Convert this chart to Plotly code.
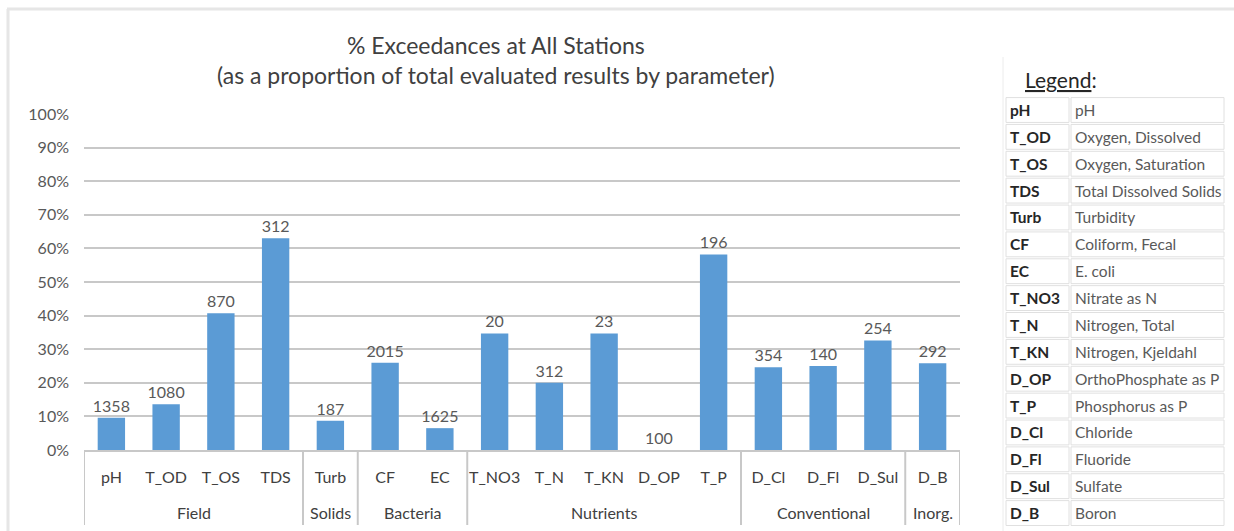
import plotly.graph_objects as go

groups = ["Field", "Field", "Field", "Field", "Solids", "Bacteria", "Bacteria",
          "Nutrients", "Nutrients", "Nutrients", "Nutrients", "Nutrients",
          "Conventional", "Conventional", "Conventional", "Inorg."]
params = ["pH", "T_OD", "T_OS", "TDS", "Turb", "CF", "EC", "T_NO3", "T_N", "T_KN",
          "D_OP", "T_P", "D_Cl", "D_Fl", "D_Sul", "D_B"]
pct = [0.096, 0.136, 0.407, 0.630, 0.087, 0.260, 0.065, 0.347, 0.200, 0.347,
       0.0, 0.582, 0.246, 0.250, 0.326, 0.258]
counts = [1358, 1080, 870, 312, 187, 2015, 1625, 20, 312, 23, 100, 196, 354, 140, 254, 292]
legend_names = ["pH", "Oxygen, Dissolved", "Oxygen, Saturation", "Total Dissolved Solids",
                "Turbidity", "Coliform, Fecal", "E. coli", "Nitrate as N", "Nitrogen, Total",
                "Nitrogen, Kjeldahl", "OrthoPhosphate as P", "Phosphorus as P", "Chloride",
                "Fluoride", "Sulfate", "Boron"]
yticks = [0, 0.1, 0.2, 0.3, 0.4, 0.5, 0.6, 0.7, 0.8, 0.9, 1.0]

W, H = 1234, 531
ML, MR, MT, MB = 84, 9, 100, 6
PW, PH = W - ML - MR, H - MT - MB


def px(p):
    return (p - ML) / PW


def py(q):
    return (H - MB - q) / PH


FONT = "Lato"
GRID = "#c8c8c8"

fig = go.Figure()
fig.add_trace(go.Bar(
    x=params, y=pct,
    text=[str(c) for c in counts], textposition="outside",
    constraintext="none",
    textfont=dict(family=FONT, size=16, color="#595959"),
    marker=dict(color="#5b9bd5", line=dict(width=0)),
    cliponaxis=False, showlegend=False, hoverinfo="skip",
))

annotations = [
    dict(text="% Exceedances at All Stations<br>(as a proportion of total evaluated results by parameter)",
         xref="paper", yref="paper", x=px(496), y=py(60), xanchor="center", yanchor="middle",
         showarrow=False, font=dict(family=FONT, size=23, color="#404040"), align="center"),
    dict(text="<u>Legend</u>:", xref="paper", yref="paper", x=px(1023), y=py(80),
         xanchor="left", yanchor="middle", showarrow=False,
         font=dict(family=FONT, size=21, color="#262626")),
]

shapes = [
    dict(type="line", xref="paper", yref="paper", x0=px(7), x1=px(1234), y0=py(9), y1=py(9),
         line=dict(color="#e6e6e6", width=3)),
    dict(type="line", xref="paper", yref="paper", x0=px(8), x1=px(8), y0=py(9), y1=py(531),
         line=dict(color="#e6e6e6", width=3)),
    dict(type="line", xref="paper", yref="paper", x0=px(1003), x1=px(1003), y0=py(57), y1=py(531),
         line=dict(color="#ececec", width=1)),
]

# group labels and dividers on the category axis
bounds = [-0.5]
start = 0
for i in range(1, len(groups) + 1):
    if i == len(groups) or groups[i] != groups[start]:
        annotations.append(dict(text=groups[start], xref="x", yref="paper",
                                x=(start + i - 1) / 2, y=py(512), xanchor="center", yanchor="middle",
                                showarrow=False, font=dict(family=FONT, size=16, color="#404040")))
        bounds.append(i - 0.5)
        start = i
for b in bounds:
    shapes.append(dict(type="line", xref="x", yref="paper", x0=b, x1=b, y0=py(450), y1=py(525),
                       line=dict(color=GRID, width=2)))

row_h = 26.87
for i, (code, name) in enumerate(zip(params, legend_names)):
    cy = 110 + row_h * i
    top, bot = cy - row_h / 2 + 1, cy + row_h / 2 - 1
    for x0, x1 in ((1006, 1069), (1071, 1224)):
        shapes.append(dict(type="rect", xref="paper", yref="paper",
                           x0=px(x0), x1=px(x1), y0=py(bot), y1=py(top),
                           line=dict(color="#e0e0e0", width=1), fillcolor="white"))
    annotations.append(dict(text="<b>" + code + "</b>", xref="paper", yref="paper",
                            x=px(1008), y=py(cy), xanchor="left", yanchor="middle",
                            showarrow=False, font=dict(family=FONT, size=15.5, color="#262626")))
    annotations.append(dict(text=name, xref="paper", yref="paper",
                            x=px(1073), y=py(cy), xanchor="left", yanchor="middle",
                            showarrow=False, font=dict(family=FONT, size=15.5, color="#595959")))

fig.update_layout(
    width=W, height=H,
    margin=dict(l=ML, r=MR, t=MT, b=MB, autoexpand=False),
    paper_bgcolor="white", plot_bgcolor="white",
    bargap=0.5,
    font=dict(family=FONT, size=15, color="#595959"),
    xaxis=dict(domain=[0, px(960)], type="category", automargin=False,
               tickangle=0, range=[-0.5, 15.5],
               showline=True, linecolor=GRID, linewidth=2,
               tickfont=dict(family=FONT, size=16, color="#404040"),
               ticks="", showgrid=False, ticklabelstandoff=12),
    yaxis=dict(domain=[py(450), py(114)], range=[0, 1.0], automargin=False,
               tickvals=yticks, tickformat=".0%",
               tickfont=dict(family=FONT, size=16, color="#595959"),
               showgrid=True, gridcolor=GRID, gridwidth=2,
               zeroline=False, showline=False, ticklabelstandoff=14),
    annotations=annotations,
    shapes=shapes,
)

fig.write_html("out.html", config={"displayModeBar": False},
               post_script="document.body.style.margin='0';")
